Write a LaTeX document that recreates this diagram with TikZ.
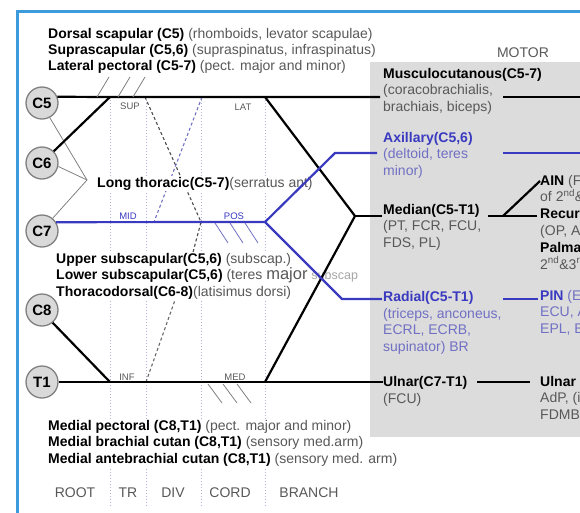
\documentclass[tikz,border=0pt]{standalone}
\usepackage{fontspec}
\setmainfont{Liberation Sans}
\definecolor{cframe}{HTML}{3D9BDC}
\definecolor{cbox}{HTML}{DCDCDC}
\definecolor{cblue}{HTML}{3A3AC0}
\definecolor{clblue}{HTML}{7070C4}
\definecolor{cgrey}{HTML}{585858}
\definecolor{cdiv}{HTML}{B0B0D8}
\definecolor{cring}{HTML}{808080}
\definecolor{cdisc}{HTML}{D9D9D9}
\newcommand{\hd}[1]{\textcolor{black}{\textbf{#1}}}
\newcommand{\bhd}[1]{\textcolor{cblue}{\textbf{#1}}}
\tikzset{
  every picture/.style={x=1pt, y=-1pt},
  % multi-line texts are placed by the baseline of their last line
  txt/.style={anchor=base west, align=left, inner sep=0pt, text=cgrey, font=\fontsize{14}{16.5}\selectfont},
  wtxt/.style={txt, fill=white, inner sep=1pt},
  tag/.style={anchor=base, inner sep=0pt, font=\fontsize{9.5}{10}\selectfont, text=#1},
  tag/.default=cgrey,
  root/.style={circle, draw=cring, fill=cdisc, line width=1.3pt, minimum size=32pt, inner sep=0pt, font=\bfseries\fontsize{15}{15}\selectfont},
  nerve/.style={line width=2.2pt, draw=#1},
  nerve/.default=black,
  twig/.style={line width=0.8pt, draw=#1},
  twig/.default=gray,
  divn/.style={line width=1.1pt, dash pattern=on 3pt off 2.5pt, draw=#1},
  colsep/.style={draw=cdiv, line width=0.8pt, dash pattern=on 1pt off 2pt},
}

\begin{document}
\begin{tikzpicture}
  \path[use as bounding box] (0,0) rectangle (580,512);
  \clip (0,0) rectangle (580,512);
  % ---- column separators ----
  \foreach \x in {110,146,201,265} \draw[colsep] (\x,100) -- (\x,506);
  % ---- lower collaterals (under the panel) ----
  \node[wtxt] (lower) at (47,463) {\hd{Medial pectoral (C8,T1)} (pect. major and minor)\\
    \hd{Medial brachial cutan (C8,T1)} (sensory med.arm)\\
    \hd{Medial antebrachial cutan (C8,T1)} (sensory med. arm)};
  % ---- frame and motor panel ----
  \fill[cbox] (370,62) rectangle (590,437);
  \draw[cframe, line width=3pt] (17,520) -- (17,11) -- (590,11);
  \node[tag, font=\fontsize{14}{16}\selectfont] (motor) at (523,57) {MOTOR};
  % ---- junctions ----
  \coordinate (sup) at (110,97);
  \coordinate (lat) at (265,97);
  \coordinate (pos) at (265,222);
  \coordinate (inf) at (110,382);
  \coordinate (med) at (265,382);
  \coordinate (mdn) at (355,216);
  \coordinate (lt) at (87,180);
  % ---- divisions ----
  \coordinate (ud) at (145,97);
  \coordinate (up) at (201,222);
  \coordinate (usub) at (192,256);
  \coordinate (ua) at (202,97);
  \coordinate (ma) at (154,222);
  \coordinate (ld) at (146,382);
  \coordinate (tdor) at (175,300);
  \draw[divn=black!70] (ud) -- (up) -- (usub);
  \draw[divn=clblue] (ua) -- (ma);
  \draw[divn=black!60] (ld) -- (tdor);
  % ---- collateral branches ----
  \node[txt, font=\fontsize{14}{16}\selectfont] (upper) at (48,70) {\hd{Dorsal scapular (C5)} (rhomboids, levator scapulae)\\
    \hd{Suprascapular (C5,6)} (supraspinatus, infraspinatus)\\
    \hd{Lateral pectoral (C5-7)} (pect. major and minor)};
  \node[wtxt] (lthor) at (96,187) {\hd{Long thoracic(C5-7)}(serratus ant)};
  \node[wtxt] (poster) at (55,296) {\hd{Upper subscapular(C5,6)} (subscap.)\\
    \hd{Lower subscapular(C5,6)} (teres {\fontsize{16.5}{16.5}\selectfont major} {\fontsize{12.5}{12.5}\selectfont\textcolor{gray!70}{subscap}}\\
    \hd{Thoracodorsal(C6-8)}(latisimus dorsi)};
  \foreach \x/\t in {75/ROOT, 128/TR, 173/DIV, 230/CORD, 309/BRANCH}
    \node[tag, font=\fontsize{14}{16}\selectfont] (col-\t) at (\x,497) {\t};
  % ---- branches ----
  \node[txt] (msc) at (383,111) {\hd{Musculocutanous(C5-7)}\\(coracobrachialis,\\brachiais, biceps)};
  \node[txt, text=clblue] (axl) at (383,175) {\bhd{Axillary(C5,6)}\\(deltoid, teres\\minor)};
  \node[txt] (mdt) at (383,247) {\hd{Median(C5-T1)}\\(PT, FCR, FCU,\\FDS, PL)};
  \node[txt, text=clblue] (rdt) at (383,351) {\bhd{Radial(C5-T1)}\\(triceps, anconeus,\\ECRL, ECRB,\\supinator) BR};
  \node[txt] (ult) at (383,403) {\hd{Ulnar(C7-T1)}\\(FCU)};
  \node[txt, font=\fontsize{14}{16.8}\selectfont] (ain) at (540,269) {\hd{AIN} (FPL, PQ, FDP\\of 2\textsuperscript{nd}\&3\textsuperscript{rd})\\
    \hd{Recurrent}\\(OP, APB, FPB)\\\hd{Palmar}\\2\textsuperscript{nd}\&3\textsuperscript{rd} lumbricals};
  \node[txt, text=clblue] (pin) at (540,333) {\bhd{PIN} (EDC, EDM,\\ECU, APL,\\EPL, EPB, EI)};
  \node[txt] (ulr) at (540,419) {\hd{Ulnar} (hypothenar,\\AdP, (interossei),\\FDMB)};
  % ---- trunks and cords ----
  \node[root] (c5) at (42,103) {C5};
  \node[root] (c6) at (42,163) {C6};
  \node[root] (c7) at (42,231) {C7};
  \node[root] (c8) at (42,310) {C8};
  \node[root] (t1) at (42,382) {T1};
  \coordinate (msc-in) at (380,97);  \coordinate (msc-out) at (503,97);  \coordinate (msc-r) at (590,97);
  \coordinate (ax-k) at (335,153);   \coordinate (ax-in) at (377,153);   \coordinate (ax-out) at (503,153); \coordinate (ax-r) at (590,153);
  \coordinate (md-in) at (382,216);  \coordinate (md-out) at (488,216);  \coordinate (md-k) at (503,216);  \coordinate (md-rec) at (537,216); \coordinate (md-ain) at (540,181);
  \coordinate (rd-k) at (342,299);   \coordinate (rd-in) at (382,299);   \coordinate (rd-out) at (503,299); \coordinate (rd-pin) at (538,299);
  \coordinate (ul-in) at (383,382);  \coordinate (ul-out) at (477,382);  \coordinate (ul-r) at (530,382);
  \foreach \r/\a in {c5/-62, c6/-12, c7/50} \draw[twig] (\r.\a) -- (lt);
  \draw[nerve] (c5.22) -- (sup) -- (lat) -- (msc-in);
  \draw[nerve] (c6.45) -- (sup);
  \draw[nerve=cblue] (c7.32) -- (pos);
  \draw[nerve] (c8.-50) -- (inf);
  \draw[nerve] (t1.east) -- (inf) -- (med) -- (ul-in);
  \draw[nerve] (lat) -- (mdn) -- (med);
  \draw[nerve] (mdn) -- (md-in);
  \draw[nerve=cblue] (pos) -- (ax-k) -- (ax-in);
  \draw[nerve=cblue] (pos) -- (rd-k) -- (rd-in);
  \draw[nerve] (msc-out) -- (msc-r);
  \draw[nerve=cblue] (ax-out) -- (ax-r);
  \draw[nerve] (md-out) -- (md-rec);
  \draw[nerve] (md-k) -- (md-ain);
  \draw[nerve=cblue] (rd-out) -- (rd-pin);
  \draw[nerve] (ul-out) -- (ul-r);
  % ---- small branches ----
  \foreach \x in {97,118,133} \draw[twig] (\x,97) -- ++(12,-20);
  \foreach \x in {215,230,245} \draw[twig=clblue] (\x,223) -- ++(13,20);
  \foreach \x in {208,223,237} \draw[twig] (\x,384) -- ++(14,19);
  \node[tag] (t-sup) at (130,109) {SUP};
  \node[tag] (t-lat) at (243,110) {LAT};
  \node[tag=cblue] (t-mid) at (128,219) {MID};
  \node[tag=cblue] (t-pos) at (234,219) {POS};
  \node[tag] (t-inf) at (127,380) {INF};
  \node[tag] (t-med) at (235,380) {MED};
\end{tikzpicture}
\end{document}
